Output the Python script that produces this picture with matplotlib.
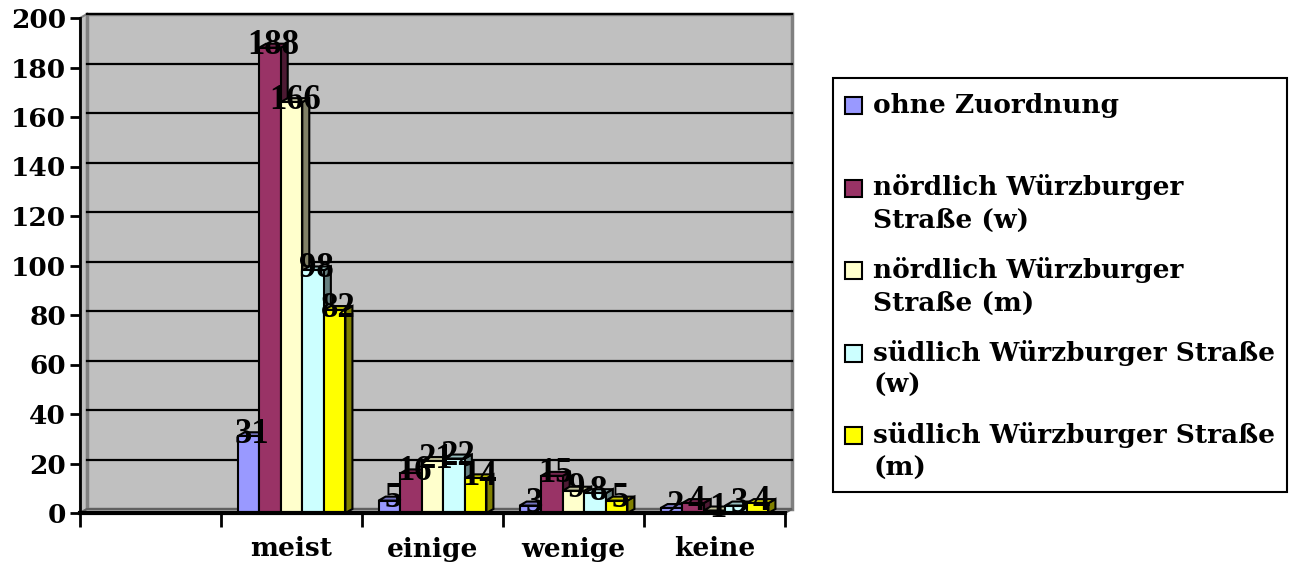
import numpy as np
import matplotlib
matplotlib.use("Agg")
import matplotlib.pyplot as plt
from matplotlib.patches import Rectangle, Polygon
from matplotlib.colors import to_rgb

# ----- Daten -----
kategorien = ['', 'meist', 'einige', 'wenige', 'keine']
serien = [
    'ohne Zuordnung',
    'nördlich Würzburger\nStraße (w)',
    'nördlich Würzburger\nStraße (m)',
    'südlich Würzburger Straße\n(w)',
    'südlich Würzburger Straße\n(m)',
]
ohne_zuordnung = [None, 31, 5, 3, 2]
noerdlich_w = [None, 188, 16, 15, 4]
noerdlich_m = [None, 166, 21, 9, 1]
suedlich_w = [None, 98, 22, 8, 3]
suedlich_m = [None, 82, 14, 5, 4]
werte = [ohne_zuordnung, noerdlich_w, noerdlich_m, suedlich_w, suedlich_m]

farben = ['#9999FF', '#993366', '#FFFFCC', '#CCFFFF', '#FFFF00']

W, H, DPI = 1291, 568, 100
TICK_FONT = dict(family='DejaVu Serif', weight='bold', size=19)
LABEL_FONT = dict(family='Liberation Serif', weight='bold', size=25)

def fig_xy(x, y):
    return x / W, 1 - y / H

def dunkler(c, f):
    return tuple(v * f for v in to_rgb(c))

fig = plt.figure(figsize=(W / DPI, H / DPI), dpi=DPI)
fig.patch.set_facecolor('white')

# Achsenbereich (Vorderkante)
x0, x1, y_top, y_bot = 80, 785, 18, 513
ax = fig.add_axes([x0 / W, 1 - y_bot / H, (x1 - x0) / W, (y_bot - y_top) / H])
ax.set_xlim(0, len(kategorien))
ax.set_ylim(0, 200)
ax.set_facecolor('none')

# Tiefe der 3D-Darstellung in Dateneinheiten
tiefe_px, hoehe_px = 7, 4
dx = tiefe_px / (x1 - x0) * len(kategorien)
dy = hoehe_px / (y_bot - y_top) * 200
n_kat = len(kategorien)

# Rückwand, Seitenwand, Boden
ax.add_patch(Polygon([(0, 0), (0, 200), (dx, 200 + dy), (dx, dy)], closed=True,
                     facecolor='#C0C0C0', edgecolor='#808080', lw=1.5, zorder=0, clip_on=False))
ax.add_patch(Rectangle((dx, dy), n_kat, 200, facecolor='#C0C0C0', edgecolor='#808080',
                       lw=2.5, zorder=0, clip_on=False))
ax.add_patch(Polygon([(0, 0), (n_kat, 0), (n_kat + dx, dy), (dx, dy)], closed=True,
                     facecolor='#A6A6A6', edgecolor='#606060', lw=1.5, zorder=1, clip_on=False))
for g in range(20, 201, 20):
    ax.plot([dx, n_kat + dx], [g + dy, g + dy], color='black', lw=1.6, zorder=1, clip_on=False)

# Balken mit Vorder-, Seiten- und Oberfläche
n_ser = len(serien)
bw = 0.153
for i, cat in enumerate(kategorien):
    for s in range(n_ser):
        v = werte[s][i]
        if v is None:
            continue
        left = i + 0.5 - n_ser * bw / 2 + s * bw
        right = left + bw
        z = 3 + i * 0.01 + s * 0.001
        ax.add_patch(Polygon([(right, 0), (right + dx, dy), (right + dx, v + dy), (right, v)],
                             closed=True, facecolor=dunkler(farben[s], 0.5), edgecolor='black',
                             lw=1.5, zorder=z, clip_on=False))
        ax.add_patch(Polygon([(left, v), (right, v), (right + dx, v + dy), (left + dx, v + dy)],
                             closed=True, facecolor=dunkler(farben[s], 0.75), edgecolor='black',
                             lw=1.5, zorder=z, clip_on=False))
        ax.add_patch(Rectangle((left, 0), bw, v, facecolor=farben[s], edgecolor='black',
                               lw=1.5, zorder=z, clip_on=False))

# Werte über den Balken
for i in range(n_kat):
    for s in range(n_ser):
        v = werte[s][i]
        if v is None:
            continue
        xc = i + 0.5 - n_ser * bw / 2 + (s + 0.5) * bw + dx / 2
        ax.text(xc, v + dy / 2, str(v), ha='center', va='center', zorder=10,
                color='black', **LABEL_FONT)

# Achsen
for side in ['top', 'right']:
    ax.spines[side].set_visible(False)
ax.spines['left'].set_linewidth(2)
ax.spines['bottom'].set_linewidth(3)
ax.spines['left'].set_zorder(5)
ax.spines['bottom'].set_zorder(5)
ax.set_yticks(range(0, 201, 20))
ax.set_yticklabels([str(t) for t in range(0, 201, 20)], **TICK_FONT)
ax.tick_params(axis='y', length=7, width=2, pad=3)
ax.set_xticks(range(0, n_kat + 1))
ax.set_xticklabels([])
ax.tick_params(axis='x', length=10, width=2)
y_kat = (y_bot - 549) / (y_bot - y_top)
for i, cat in enumerate(kategorien):
    ax.text(i + 0.5, y_kat, cat, transform=ax.get_xaxis_transform(), ha='center',
            va='center', **TICK_FONT)

# Legende
lx0, ly0, lx1, ly1 = 833, 78, 1287, 492
fig.patches.append(Rectangle(fig_xy(lx0, ly1), (lx1 - lx0) / W, (ly1 - ly0) / H,
                             transform=fig.transFigure, facecolor='white',
                             edgecolor='black', lw=1.5))
slot = 82.5
zeile = 33
for k, name in enumerate(serien):
    yc = 105 + k * slot
    mx, my = fig_xy(845, yc + 9)
    fig.patches.append(Rectangle((mx, my), 17 / W, 17 / H, transform=fig.transFigure,
                                 facecolor=farben[k], edgecolor='black', lw=1.5))
    for j, teil in enumerate(name.split('\n')):
        tx, ty = fig_xy(873, yc + j * zeile)
        fig.text(tx, ty, teil, ha='left', va='center', **TICK_FONT)

fig.savefig('out.png', dpi=DPI)
